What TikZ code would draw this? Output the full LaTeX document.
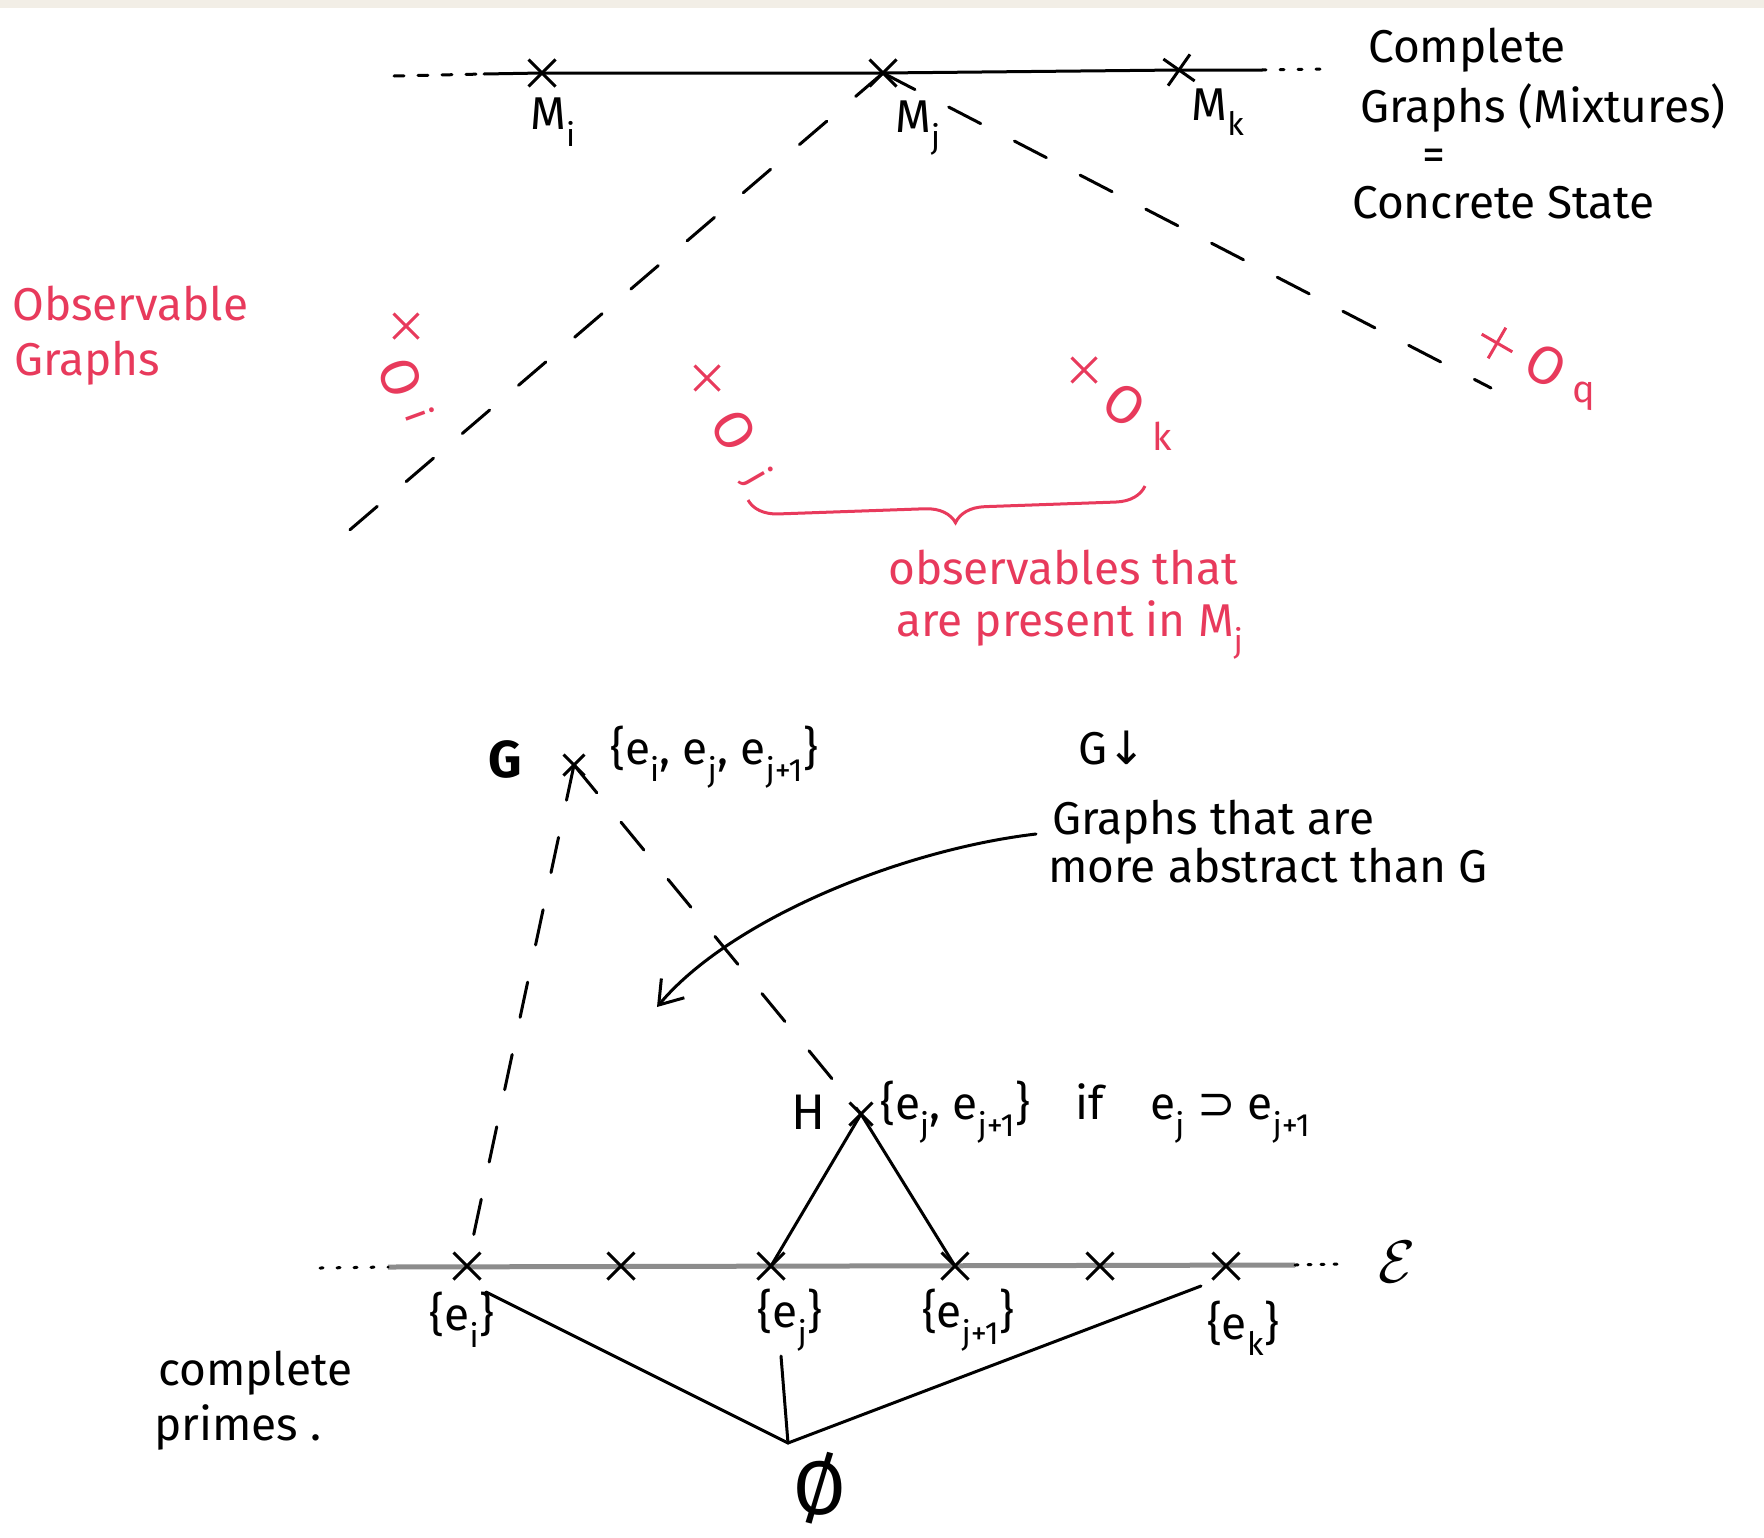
\documentclass[tikz,border=0pt]{standalone}
\usepackage{graphicx}
\usepackage{fontspec}
\setmainfont{Fira Sans}
\newfontfamily\symfont{DejaVu Sans}
\usetikzlibrary{shapes.misc,arrows.meta,decorations.pathreplacing}
\definecolor{obsred}{RGB}{232,58,92}
\definecolor{paper}{RGB}{242,238,230}
\tikzset{
  ink/.style={line width=3pt,line cap=round},
  xmark/.style={cross out,draw,line width=3pt,minimum size=24pt,inner sep=0pt},
  rxmark/.style={cross out,draw=obsred,line width=3pt,minimum size=22pt,inner sep=0pt},
  dashline/.style={ink,dash pattern=on 36pt off 38pt},
  txt/.style={font=\fontsize{46}{52}\selectfont,inner sep=0pt},
  rtxt/.style={txt,text=obsred},
  olab/.style={font=\fontsize{54}{58}\selectfont,inner sep=0pt,text=obsred},
  osubl/.style={font=\fontsize{38}{42}\selectfont,inner sep=0pt,text=obsred},
}
\begin{document}
\begin{tikzpicture}[x=1pt,y=-1pt]
\useasboundingbox (0,0) rectangle (1764,1537);
\fill[white] (0,0) rectangle (1764,1537);
\fill[paper] (0,0) rectangle (1764,8);

% ---------- top line of complete graphs
\node[xmark] (mi) at (542,73) {};
\node[xmark] (mj) at (883,73) {};
\node[xmark,rotate=10] (mk) at (1179,70) {};
\coordinate (tl) at (394,76);
\coordinate (tl2) at (484,74);
\coordinate (tr) at (1262,70);
\coordinate (tr2) at (1330,69);
\draw[ink,dash pattern=on 10pt off 14pt] (tl) -- (tl2);
\draw[ink] (tl2) -- (mi.center) -- (mj.center) -- (mk.center) -- (tr);
\draw[ink,dash pattern=on 4pt off 14pt] (tr) -- (tr2);
\node[txt] (lmi) at (553,122) {M\textsubscript{i}};
\node[txt] (lmj) at (918,128) {M\textsubscript{j}};
\node[txt] (lmk) at (1218,112) {M\textsubscript{k}};

\node[txt,anchor=base west] (c1) at (1368,62) {Complete};
\node[txt,anchor=base west] (c2) at (1360,122) {Graphs (Mixtures)};
\node[txt] (c3) at (1434,160) {=};
\node[txt,anchor=base west] (c4) at (1352,218) {Concrete State};

% dashed cone from M_j
\coordinate (coneL) at (338,540);
\coordinate (coneR) at (1491,388);
\draw[dashline] (mj.center) -- (coneL);
\draw[dashline] (mj.center) -- (coneR);

% ---------- observable graphs (red)
\node[rtxt,anchor=base west] (og1) at (12,320) {Observable};
\node[rtxt,anchor=base west] (og2) at (14,375) {Graphs};

\node[rxmark] (xoi) at (406,326) {};
\node[olab,rotate=-70] (oi) at (400,378) {O};
\node[osubl,rotate=-70] (oisub) at (420,414) {i};
\node[rxmark] (xoj) at (707,378) {};
\node[olab,rotate=-60] (oj) at (734,430) {O};
\node[osubl,rotate=-60] (ojsub) at (756,478) {j};
\node[rxmark] (xok) at (1084,370) {};
\node[olab,rotate=-35] (ok) at (1124,405) {O};
\node[osubl] (oksub) at (1162,436) {k};
\node[rxmark,rotate=15] (xoq) at (1497,343) {};
\node[olab,rotate=-30] (oq) at (1546,366) {O};
\node[osubl] (oqsub) at (1584,396) {q};

\coordinate (brR) at (1145,486);
\coordinate (brL) at (748,500);
\draw[obsred,line width=3pt,decorate,decoration={brace,amplitude=30pt,aspect=0.48}] (brR) -- (brL);
\node[rtxt,anchor=base west] (ob1) at (888,584) {observables that};
\node[rtxt,anchor=base west] (ob2) at (896,636) {are present in M\textsubscript{j}};

% ---------- lower lattice
\node[inner sep=0pt,font=\fontsize{52}{56}\bfseries] (g) at (505,759) {G};
\node[xmark,minimum size=18pt] (gx) at (574,765) {};
\node[txt,anchor=west] (gset) at (610,757) {\{e\textsubscript{i}, e\textsubscript{j}, e\textsubscript{j+1}\}};
\node[txt] (gdown) at (1112,748) {G{\symfont ↓}};
\node[txt,anchor=base west] (ga1) at (1052,834) {Graphs that are};
\node[txt,anchor=base west] (ga2) at (1048,882) {more abstract than G};
\coordinate (arrS) at (1036,834);
\coordinate (arrE) at (657,1007);
\draw[ink,-{Straight Barb[length=22pt,width=30pt,line width=3pt]}] (arrS) .. controls (900,850) and (730,920) .. (arrE);

\node[txt,font=\fontsize{50}{54}\selectfont] (h) at (808,1112) {H};
\node[xmark,minimum size=20pt] (hx) at (861,1114) {};
\node[txt,anchor=west] (hset) at (880,1112) {\{e\textsubscript{j}, e\textsubscript{j+1}\}\quad if\quad e\textsubscript{j} {\symfont ⊃} e\textsubscript{j+1}};

% bottom line (complete primes)
\coordinate (bl) at (320,1268);
\coordinate (bl2) at (388,1267);
\coordinate (br) at (1295,1265);
\coordinate (br2) at (1340,1264);
\draw[line width=5pt,black!45] (bl2) -- (br);
\draw[ink,dash pattern=on 3pt off 14pt] (bl) -- (bl2);
\draw[ink,dash pattern=on 3pt off 10pt] (br) -- (br2);
\node[xmark] (e1) at (467,1266) {};
\node[xmark] (e2) at (621,1266) {};
\node[xmark] (e3) at (771,1266) {};
\node[xmark] (e4) at (955,1266) {};
\node[xmark] (e5) at (1100,1266) {};
\node[xmark] (e6) at (1226,1266) {};
\node[inner sep=0pt] (calE) at (1397,1262) {\scalebox{6}{$\mathcal{E}$}};

\node[txt] (lei) at (462,1320) {\{e\textsubscript{i}\}};
\node[txt] (lej) at (790,1320) {\{e\textsubscript{j}\}};
\node[txt] (lej1) at (968,1320) {\{e\textsubscript{j+1}\}};
\node[txt] (lek) at (1243,1328) {\{e\textsubscript{k}\}};

\node[txt,anchor=base west] (cp1) at (158,1385) {complete};
\node[txt,anchor=base west] (cp2) at (154,1440) {primes .};

% edges
\draw[dashline] (gx.center) -- (e1.center);
\draw[dashline] (gx.center) -- (hx.center);
\draw[ink] (hx.center) -- (e3.center);
\draw[ink] (hx.center) -- (e4.center);

\coordinate (meet) at (788,1443);
\coordinate (fi) at (486,1292);
\coordinate (fj) at (781,1356);
\coordinate (fk) at (1201,1286);
\draw[ink] (fi) -- (meet) -- (fk);
\draw[ink] (fj) -- (meet);
\node[font=\fontsize{76}{80}\selectfont,inner sep=0pt] (empty) at (820,1488) {Ø};
\end{tikzpicture}
\end{document}
